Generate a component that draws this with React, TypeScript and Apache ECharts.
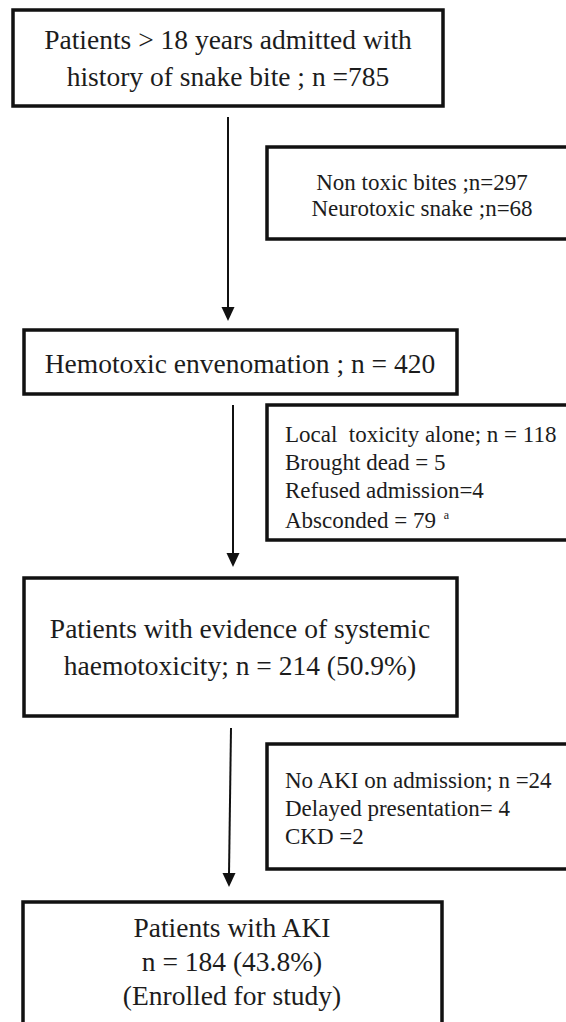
import React, { useEffect, useRef } from "react";
import * as echarts from "echarts";

// ---- content (from the reference flowchart) ----
const mainSteps: string[][] = [
  ["Patients > 18 years admitted with", "history of snake bite ; n =785"],
  ["Hemotoxic envenomation ; n = 420"],
  ["Patients with evidence of systemic", "haemotoxicity; n = 214 (50.9%)"],
  ["Patients with AKI", "n = 184 (43.8%)", "(Enrolled for study)"],
];
const exclusionSteps: string[][] = [
  ["Non toxic bites ;n=297", "Neurotoxic snake ;n=68"],
  ["Local  toxicity alone; n = 118", "Brought dead = 5", "Refused admission=4", "Absconded = 79 {sup|a}"],
  ["No AKI on admission; n =24", "Delayed presentation= 4", "CKD =2"],
];

// ---- layout ----
const FONT = "'Liberation Serif', 'Times New Roman', serif";
const TEXT_COLOR = "#1c1c1c";
const BORDER = "#111";

const mainLayout = [
  { x: 13, y: 10, w: 430, h: 96, cx: 228, ys: [39, 76], fs: 27.5 },
  { x: 24, y: 330, w: 433, h: 64, cx: 240, ys: [363], fs: 27.5 },
  { x: 24, y: 578, w: 433, h: 138, cx: 240, ys: [628, 665], fs: 27.5 },
  { x: 23, y: 902, w: 419, h: 140, cx: 232, ys: [927, 961, 995], fs: 27.5 },
];
const sideLayout = [
  { x: 267, y: 147, w: 320, h: 92, align: "center", tx: 422, ys: [182, 208], fs: 23 },
  { x: 267, y: 405, w: 320, h: 135, align: "left", tx: 285, ys: [434, 462, 490, 520], fs: 23 },
  { x: 267, y: 744, w: 320, h: 125, align: "left", tx: 285, ys: [780, 808, 836], fs: 23 },
];
const arrowLayout = [
  { x1: 228, x2: 228, y1: 117, y2: 321 },
  { x1: 233, x2: 233, y1: 405, y2: 567 },
  { x1: 231, x2: 229, y1: 728, y2: 887 },
];

function buildGraphics() {
  const els: any[] = [];
  mainSteps.forEach((lines, i) => {
    const L = mainLayout[i];
    els.push({
      type: "rect",
      shape: { x: L.x, y: L.y, width: L.w, height: L.h },
      style: { fill: "#fff", stroke: BORDER, lineWidth: 3.5 },
    });
    lines.forEach((t, j) => {
      els.push({
        type: "text",
        x: L.cx,
        y: L.ys[j],
        style: {
          text: t,
          fill: TEXT_COLOR,
          fontSize: L.fs,
          fontFamily: FONT,
          textAlign: "center",
          textVerticalAlign: "middle",
          align: "center",
          verticalAlign: "middle",
        },
      });
    });
  });
  exclusionSteps.forEach((lines, i) => {
    const L = sideLayout[i];
    els.push({
      type: "rect",
      shape: { x: L.x, y: L.y, width: L.w, height: L.h },
      style: { fill: "#fff", stroke: BORDER, lineWidth: 3.5 },
    });
    lines.forEach((t, j) => {
      els.push({
        type: "text",
        x: L.tx,
        y: L.ys[j],
        style: {
          text: t,
          fill: TEXT_COLOR,
          fontSize: L.fs,
          fontFamily: FONT,
          textAlign: L.align,
          textVerticalAlign: "middle",
          align: L.align,
          verticalAlign: "middle",
          rich: {
            sup: { fontSize: 12, fontFamily: FONT, fill: TEXT_COLOR, verticalAlign: "top", padding: [0, 0, 0, 2] },
          },
        },
      });
    });
  });
  arrowLayout.forEach((a) => {
    const head = 14;
    els.push({
      type: "line",
      shape: { x1: a.x1, y1: a.y1, x2: a.x2, y2: a.y2 - head + 2 },
      style: { stroke: BORDER, lineWidth: 2 },
    });
    els.push({
      type: "polygon",
      shape: {
        points: [
          [a.x2 - 6.5, a.y2 - head],
          [a.x2 + 6.5, a.y2 - head],
          [a.x2, a.y2],
        ],
      },
      style: { fill: BORDER },
    });
  });
  return els;
}

export default function App() {
  const ref = useRef<HTMLDivElement>(null);
  useEffect(() => {
    if (!ref.current) return;
    const chart = echarts.init(ref.current, undefined, { renderer: "svg" });
    chart.setOption({
      animation: false,
      backgroundColor: "#fff",
      graphic: { elements: buildGraphics() },
    });
    return () => chart.dispose();
  }, []);
  return (
    <div
      ref={ref}
      style={{ position: "absolute", left: 0, top: 0, width: 566, height: 1022, background: "#fff" }}
    />
  );
}
